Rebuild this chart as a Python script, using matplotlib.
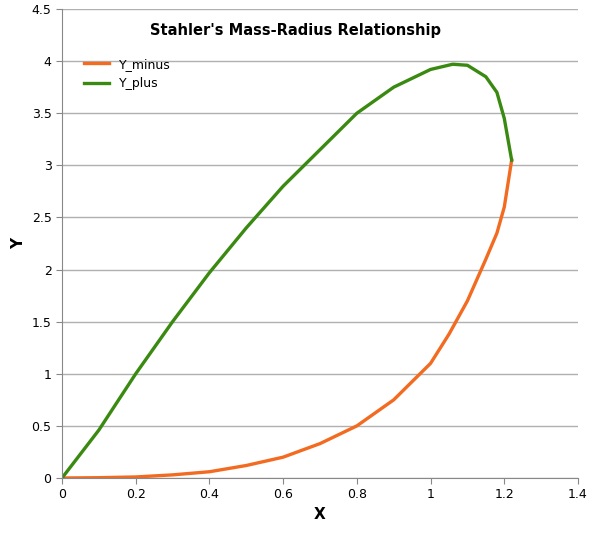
import matplotlib
matplotlib.use("Agg")
import matplotlib.pyplot as plt

x_plus = [0, 0.1, 0.2, 0.3, 0.4, 0.5, 0.6, 0.7, 0.8, 0.9, 1.0, 1.06, 1.1, 1.15, 1.18, 1.2, 1.22]
y_plus = [0, 0.46, 1.0, 1.5, 1.97, 2.4, 2.8, 3.15, 3.5, 3.75, 3.92, 3.97, 3.96, 3.85, 3.7, 3.45, 3.05]
x_minus = [0, 0.1, 0.2, 0.3, 0.4, 0.5, 0.6, 0.7, 0.8, 0.9, 1.0, 1.05, 1.1, 1.15, 1.18, 1.2, 1.22]
y_minus = [0, 0.003, 0.01, 0.03, 0.06, 0.12, 0.2, 0.33, 0.5, 0.75, 1.1, 1.38, 1.7, 2.1, 2.35, 2.6, 3.05]
xticks = [0, 0.2, 0.4, 0.6, 0.8, 1, 1.2, 1.4]
yticks = [0, 0.5, 1, 1.5, 2, 2.5, 3, 3.5, 4, 4.5]

fig = plt.figure(figsize=(5.99, 5.38), dpi=100)
ax = fig.add_axes([62/599, 1-478/538, (578-62)/599, (478-9)/538])
ax.plot(x_minus, y_minus, color="#f26b21", lw=2.4, label="Y_minus")
ax.plot(x_plus, y_plus, color="#3a8a12", lw=2.4, label="Y_plus")
ax.set_xlim(0, 1.4); ax.set_ylim(0, 4.5)
ax.set_xticks(xticks); ax.set_xticklabels([str(t) for t in xticks])
ax.set_yticks(yticks); ax.set_yticklabels([str(t) for t in yticks])
ax.yaxis.grid(True, color="#b0b0b0", lw=1)
ax.set_axisbelow(True)
for s in ["top", "right"]:
    ax.spines[s].set_visible(False)
for s in ["left", "bottom"]:
    ax.spines[s].set_color("#888888")
ax.tick_params(labelsize=9, color="#888888", length=4)
ax.set_xlabel("X", fontsize=11, fontweight="bold")
ax.set_ylabel("Y", fontsize=11, fontweight="bold")
ax.text(0.453, 0.955, "Stahler's Mass-Radius Relationship", transform=ax.transAxes,
        ha="center", va="center", fontsize=10.5, fontweight="bold")
ax.legend(loc="upper left", bbox_to_anchor=(0.02, 0.92), frameon=False, fontsize=9,
          handlelength=2.0)
fig.savefig("out.png", dpi=100)
